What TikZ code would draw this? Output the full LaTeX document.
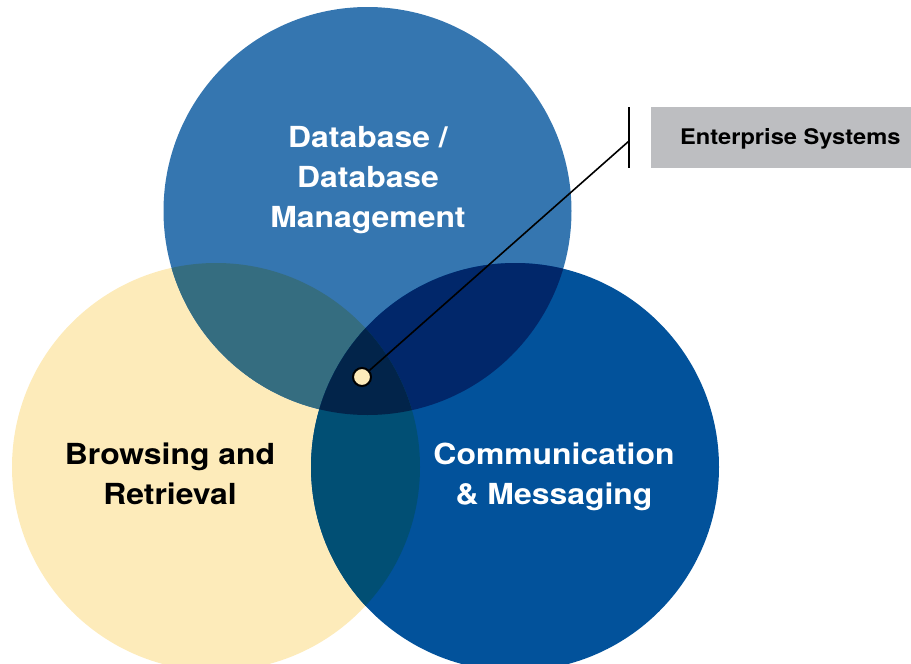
\documentclass[tikz,border=0pt]{standalone}
\usepackage{fontspec}
\setmainfont{TeX Gyre Heros}[FakeStretch=1.1]
\definecolor{softYellow}{HTML}{FDEBBA}
\definecolor{midBlue}{HTML}{3576B0}
\definecolor{deepBlue}{HTML}{02529B}
\definecolor{tealMix}{HTML}{356D80}
\definecolor{navyMix}{HTML}{01276A}
\definecolor{petrolMix}{HTML}{014F74}
\definecolor{coreMix}{HTML}{02244A}
\definecolor{tagGray}{HTML}{BDBEC1}
\tikzset{
  label text/.style={align=center, inner sep=0pt, anchor=base, font=\bfseries\fontsize{29}{40}\selectfont},
  hub/.style={circle, draw=black, line width=2pt, fill=softYellow, minimum size=18pt, inner sep=0pt}
}

\begin{document}
\begin{tikzpicture}[x=1pt, y=-1pt]
		\useasboundingbox (0, 0) rectangle (911, 664);
		%%%%%%%%%%%%%
		\coordinate (cTop) at (367.5, 211);
		\coordinate (cLeft) at (216, 467);
		\coordinate (cRight) at (515, 467);
		%%%%%%%%%%%%%
		\fill [softYellow] (cLeft) circle (204);
		\fill [midBlue] (cTop) circle (204);
		\fill [deepBlue] (cRight) circle (204);
		\begin{scope}
			\clip (cTop) circle (204);
			\fill [tealMix] (cLeft) circle (204);
			\fill [navyMix] (cRight) circle (204);
		\end{scope}
		\begin{scope}
			\clip (cLeft) circle (204);
			\fill [petrolMix] (cRight) circle (204);
			\clip (cTop) circle (204);
			\fill [coreMix] (cRight) circle (204);
		\end{scope}
		%%%%%%%%%%%%%
		% anchor=base sits on the last line
		\node [label text, text=white] (db) at (368, 227) {Database /\\Database\\Management};
		\node [label text, text=black] (browse) at (170, 504) {Browsing and\\Retrieval};
		\node [label text, text=white] (comm) at (554, 504) {Communication\\\& Messaging};
		%%%%%%%%%%%%%
		\fill [tagGray] (651, 107) rectangle (911, 168);
		\node [anchor=base west, inner sep=0pt, font=\bfseries\fontsize{21.5}{24}\selectfont] (ent) at (680, 144) {Enterprise Systems};
		\coordinate (barTop) at (629, 107);
		\coordinate (barBot) at (629, 168);
		\coordinate (barMid) at (629, 141);
		\draw [line width=2pt] (barTop) -- (barBot);
		\node [hub] (dot) at (362, 377) {};
		\draw [line width=1.6pt] (dot) -- (barMid);
\end{tikzpicture}
\end{document}
